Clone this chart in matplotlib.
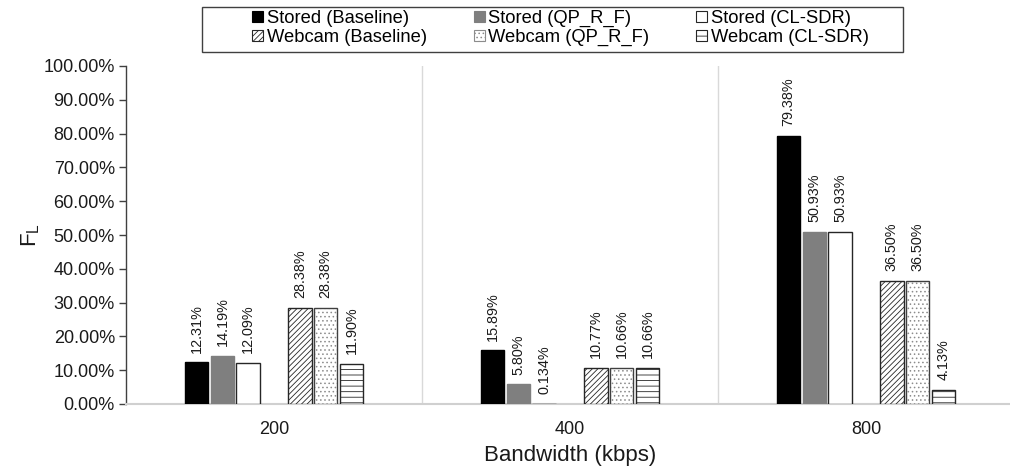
import matplotlib
matplotlib.use("Agg")
import matplotlib.pyplot as plt
from matplotlib.patches import Patch, Rectangle
from matplotlib.ticker import FuncFormatter
import numpy as np

plt.rcParams['font.family'] = ['Liberation Sans', 'DejaVu Sans']
plt.rcParams['hatch.linewidth'] = 0.6

# Bandwidth settings and F_L values (%) per configuration
categories = ['200', '400', '800']
stored_baseline = [12.31, 15.89, 79.38]
stored_qp_r_f = [14.19, 5.80, 50.93]
stored_cl_sdr = [12.09, 0.134, 50.93]
webcam_baseline = [28.38, 10.77, 36.50]
webcam_qp_r_f = [28.38, 10.66, 36.50]
webcam_cl_sdr = [11.90, 10.66, 4.13]

series_names = ['Stored (Baseline)', 'Stored (QP_R_F)', 'Stored (CL-SDR)',
                'Webcam (Baseline)', 'Webcam (QP_R_F)', 'Webcam (CL-SDR)']
series_values = [stored_baseline, stored_qp_r_f, stored_cl_sdr,
                 webcam_baseline, webcam_qp_r_f, webcam_cl_sdr]

# slot index in a cluster of 7 (the middle slot separates stored from webcam)
slots = [0, 1, 2, 4, 5, 6]
# fill, outline, hatch pattern, hatch colour
styles = [
    dict(fc='black', ec='black', hatch=None, hc=None),
    dict(fc='#7f7f7f', ec='#7f7f7f', hatch=None, hc=None),
    dict(fc='white', ec='#262626', hatch=None, hc=None),
    dict(fc='white', ec='#262626', hatch='//////', hc='#262626'),
    dict(fc='white', ec='#404040', hatch='....', hc='#8c8c8c'),
    dict(fc='white', ec='#262626', hatch='---', hc='#262626'),
]

fig = plt.figure(figsize=(10.10, 4.66), dpi=100)
W, H = 1010, 466
left_px, right_px, top_px, bottom_px = 126, 1014, 66, 404
ax = fig.add_axes([left_px / W, 1 - bottom_px / H,
                   (right_px - left_px) / W, (bottom_px - top_px) / H])

x = np.arange(len(categories))
slot_w = 0.0872
bar_w = 0.080

def fmt_label(v):
    return f"{v:.3f}%" if v < 1 else f"{v:.2f}%"

for name, vals, slot, st in zip(series_names, series_values, slots, styles):
    pos = x + (slot - 3) * slot_w
    ax.bar(pos, vals, width=bar_w, facecolor=st['fc'], edgecolor='none',
           linewidth=0, zorder=3)
    if st['hatch']:
        ax.bar(pos, vals, width=bar_w, facecolor='none', edgecolor=st['hc'],
               hatch=st['hatch'], linewidth=0, zorder=3.5)
    bars = ax.bar(pos, vals, width=bar_w, facecolor='none',
                  edgecolor=st['ec'], linewidth=1.0, zorder=4)
    for b, v in zip(bars, vals):
        ax.annotate(fmt_label(v), (b.get_x() + b.get_width() / 2, v),
                    xytext=(0, 7), textcoords='offset points',
                    rotation=90, ha='center', va='bottom',
                    fontsize=10.4, color='#1a1a1a')

ax.set_xlim(-0.5, 2.5)
ax.set_ylim(0, 100)
ax.set_yticks(np.arange(0, 101, 10))
ax.yaxis.set_major_formatter(FuncFormatter(lambda v, p: f"{v:.2f}%"))
ax.set_xticks(x)
ax.set_xticklabels(categories)
ax.tick_params(axis='x', length=0, labelsize=13, pad=12, colors='#1a1a1a')
ax.tick_params(axis='y', length=5, width=1, labelsize=13, color='#404040',
               labelcolor='#1a1a1a', pad=3)

for xv in [0.5, 1.5, 2.5]:
    ax.axvline(xv, color='#d9d9d9', linewidth=1.0, zorder=1)

for s in ['top', 'right']:
    ax.spines[s].set_visible(False)
ax.spines['left'].set_color('#404040')
ax.spines['left'].set_linewidth(1.0)
ax.spines['bottom'].set_color('#d0d0d0')
ax.spines['bottom'].set_linewidth(1.5)

ax.set_xlabel('Bandwidth (kbps)', fontsize=16, color='#1a1a1a', labelpad=5)
ax.set_ylabel(r'F$_\mathregular{L}$', fontsize=16, color='#1a1a1a', labelpad=1)

# legend with a plain rectangular frame
def legend_handle(st):
    return Patch(facecolor=st['fc'], edgecolor=st['hc'] or st['ec'],
                 hatch=st['hatch'], linewidth=0.8)

handles = [legend_handle(st) for st in styles]
order = [0, 3, 1, 4, 2, 5]
leg = fig.legend([handles[i] for i in order], [series_names[i] for i in order],
                 ncol=3, loc='upper left',
                 bbox_to_anchor=(252 / W, 1 - 10 / H),
                 frameon=False, fontsize=13.2, handlelength=0.6,
                 handleheight=0.6, handletextpad=0.2, columnspacing=2.55,
                 labelspacing=0.1, borderpad=0, borderaxespad=0)
fig.add_artist(Rectangle((202 / W, 1 - 52 / H), (903 - 202) / W, 45 / H,
                         transform=fig.transFigure, fill=False,
                         edgecolor='#404040', linewidth=1.0))

fig.savefig('out.png', dpi=100)
